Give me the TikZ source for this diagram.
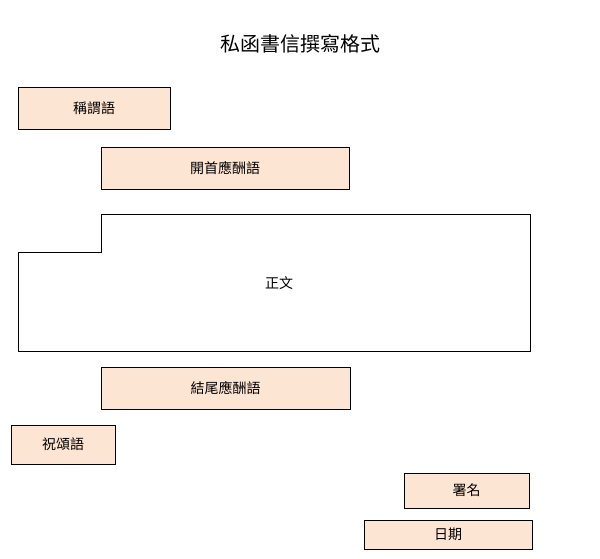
\documentclass[tikz,border=0pt]{standalone}
\usepackage{fontspec}
\setmainfont{Noto Sans CJK TC}
\begin{document}
\begin{tikzpicture}[x=1pt,y=-1pt]
        %colores
        \definecolor{peach}{HTML}{FDE5D3}
        \tikzset{part/.style={draw,thick,fill=peach,font=\fontsize{14}{16}\selectfont,inner sep=0pt}}

        \useasboundingbox (0,0) rectangle (600,559);
        % Titulo
        \node[font=\fontsize{20}{22}\selectfont] (titulo) at (300,44) {私函書信撰寫格式};

        % Cajas
        \node[part,minimum width=152,minimum height=42] (cheng) at (94,108) {稱謂語};
        \node[part,minimum width=248,minimum height=42] (kaishou) at (225,168) {開首應酬語};
        \node[part,minimum width=249,minimum height=42] (jiewei) at (225.5,388) {結尾應酬語};
        \node[part,minimum width=104,minimum height=39] (zhusong) at (63,444.5) {祝頌語};
        \node[part,minimum width=125,minimum height=35] (shuming) at (466.5,490.5) {署名};
        \node[part,minimum width=168,minimum height=29] (riqi) at (448,534.5) {日期};

        % Cuerpo
        \draw[thick] (18,351) -- (18,252) -- (101,252) -- (101,214) -- (530,214) -- (530,351) -- cycle;
        \node[font=\fontsize{14}{16}\selectfont] (zhengwen) at (279,283) {正文};
    \end{tikzpicture}
\end{document}
